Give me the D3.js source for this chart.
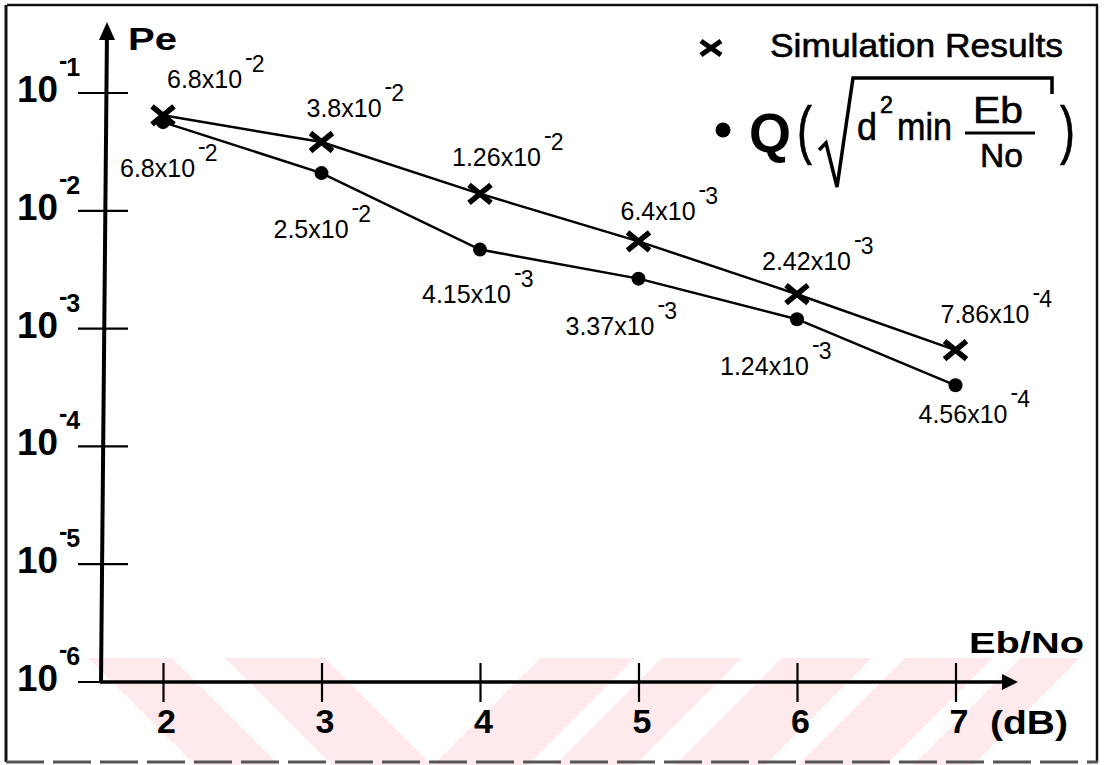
<!DOCTYPE html>
<html><head><meta charset="utf-8">
<script src="https://cdn.jsdelivr.net/npm/d3@7"></script>
<style>html,body{margin:0;padding:0;background:#fff;} svg{display:block;}</style>
</head><body>
<svg id="chart" width="1104" height="765"></svg>
<script>
// ---- data ----
const ebNo = [2, 3, 4, 5, 6, 7];
const simulation = [6.4e-2, 3.8e-2, 1.38e-2, 5.45e-3, 1.94e-3, 6.5e-4];
const qBound = [5.6e-2, 2.07e-2, 4.64e-3, 2.63e-3, 1.19e-3, 3.27e-4];
const simLabelMantissa = ["6.8x10", "3.8x10", "1.26x10", "6.4x10", "2.42x10", "7.86x10"];
const simLabelExp = ["2", "2", "2", "3", "3", "4"];
const qLabelMantissa = ["6.8x10", "2.5x10", "4.15x10", "3.37x10", "1.24x10", "4.56x10"];
const qLabelExp = ["2", "2", "3", "3", "3", "4"];
const xTicks = [2, 3, 4, 5, 6, 7];
const yTicks = [1e-1, 1e-2, 1e-3, 1e-4, 1e-5, 1e-6];
const yTickExp = ["1", "2", "3", "4", "5", "6"];
const legendSim = "Simulation Results";

// ---- layout (label offsets from their point) ----
const simLabelOffset = [[4, -27], [-15, -25], [-28, -28], [-18, -21], [-35, -24], [-15, -27]];
const qLabelOffset = [[-43, 55], [-48, 65], [-58, 53], [-73, 56], [-77, 56], [-37, 38]];

const FONT = "'Liberation Sans', Arial, Helvetica, sans-serif";
const svg = d3.select("#chart");

const x = d3.scaleLinear().domain([2, 7]).range([163, 955.5]);
const y = d3.scaleLog().domain([1e-6, 1e-1]).range([681.5, 92.5]);

// watermark (faint pink stripes at the bottom)
const wm = svg.append("g").attr("fill", "#feeaed");
const bandTop = 658, bandBot = 765, bh = bandBot - bandTop;
[[88, 84, 1], [225, 100, 1], [540, 95, -1], [662, 80, -1], [782, 90, -1], [905, 88, -1], [1020, 60, -1]]
  .forEach(([x0, w, dir]) => {
    const s = dir * bh;
    wm.append("polygon").attr("points",
      `${x0},${bandTop} ${x0 + w},${bandTop} ${x0 + w + s},${bandBot} ${x0 + s},${bandBot}`);
  });

// frame
svg.append("line").attr("x1", 7).attr("y1", 5).attr("x2", 1098).attr("y2", 5).attr("stroke", "#111").attr("stroke-width", 2.5);
svg.append("line").attr("x1", 6).attr("y1", 5).attr("x2", 6).attr("y2", 762).attr("stroke", "#111").attr("stroke-width", 3);
svg.append("line").attr("x1", 1097).attr("y1", 5).attr("x2", 1097).attr("y2", 762).attr("stroke", "#111").attr("stroke-width", 2.5);
svg.append("line").attr("x1", 6).attr("y1", 762).attr("x2", 1098).attr("y2", 762).attr("stroke", "#555").attr("stroke-width", 3).attr("stroke-dasharray", "38 9");

// y axis (log) with crossing ticks
const yAxis = svg.append("g").attr("transform", "translate(103,0)")
  .call(d3.axisLeft(y).tickValues(yTicks).tickSize(24).tickFormat(""));
yAxis.select(".domain").remove();
yAxis.selectAll(".tick line").attr("x1", -25).attr("x2", 25).attr("stroke", "#000").attr("stroke-width", 2.2);
yAxis.selectAll(".tick").each(function (d, i) {
  const g = d3.select(this);
  g.append("text").attr("x", -86).attr("y", 9).attr("text-anchor", "start")
    .attr("fill", "#000").attr("font-family", FONT).attr("font-weight", "bold").attr("font-size", 36)
    .attr("textLength", 41).attr("lengthAdjust", "spacingAndGlyphs").text("10");
  const s = g.append("text").attr("x", -44).attr("y", -17).attr("text-anchor", "start")
    .attr("fill", "#000").attr("font-family", FONT).attr("font-weight", "bold").attr("font-size", 25);
  s.append("tspan").attr("dy", -7).text("-");
  s.append("tspan").attr("dy", 7).attr("dx", -1).text(yTickExp[i]);
});
// y axis line + arrow
svg.append("line").attr("x1", 101).attr("y1", 683).attr("x2", 107).attr("y2", 30).attr("stroke", "#000").attr("stroke-width", 4);
svg.append("path").attr("d", "M107,22 L99,40 L115,40 Z").attr("fill", "#000");

// x axis with crossing ticks
const xAxis = svg.append("g").attr("transform", "translate(0,682)")
  .call(d3.axisBottom(x).tickValues(xTicks).tickSize(20).tickFormat(d3.format("d")));
xAxis.select(".domain").remove();
xAxis.selectAll(".tick line").attr("y1", -19).attr("y2", 20).attr("stroke", "#000").attr("stroke-width", 2.2);
xAxis.selectAll(".tick text").attr("y", 51).attr("dy", 0).attr("dx", 3)
  .attr("fill", "#000").attr("font-family", FONT).attr("font-weight", "bold").attr("font-size", 34);
svg.append("line").attr("x1", 100).attr("y1", 682).attr("x2", 1008).attr("y2", 682).attr("stroke", "#000").attr("stroke-width", 3.5);
svg.append("path").attr("d", "M1018,682 L1002,674 L1002,690 Z").attr("fill", "#000");

// axis titles
const bold = (sel) => sel.attr("fill", "#000").attr("font-family", FONT).attr("font-weight", "bold");
bold(svg.append("text")).attr("x", 128).attr("y", 50).attr("font-size", 32)
  .attr("textLength", 49).attr("lengthAdjust", "spacingAndGlyphs").text("Pe");
bold(svg.append("text")).attr("x", 969).attr("y", 653).attr("font-size", 30)
  .attr("textLength", 115).attr("lengthAdjust", "spacingAndGlyphs").text("Eb/No");
bold(svg.append("text")).attr("x", 990).attr("y", 734).attr("font-size", 33)
  .attr("textLength", 78).attr("lengthAdjust", "spacingAndGlyphs").text("(dB)");

// series lines
const line = d3.line().x((d, i) => x(ebNo[i])).y(d => y(d));
svg.append("path").datum(simulation).attr("d", line).attr("fill", "none").attr("stroke", "#000").attr("stroke-width", 2.5);
svg.append("path").datum(qBound).attr("d", line).attr("fill", "none").attr("stroke", "#000").attr("stroke-width", 2.5);

// markers
svg.append("g").selectAll("path").data(simulation).join("path")
  .attr("transform", (d, i) => `translate(${x(ebNo[i])},${y(d)})`)
  .attr("d", "M-11,-9L11,9M-11,9L11,-9").attr("stroke", "#000").attr("stroke-width", 5.5).attr("fill", "none");
svg.append("g").selectAll("circle").data(qBound).join("circle")
  .attr("cx", (d, i) => x(ebNo[i])).attr("cy", d => y(d)).attr("r", 7).attr("fill", "#000");

// value labels
function valueLabel(px, py, mant, exp) {
  const t = svg.append("text").attr("x", px).attr("y", py).attr("font-family", FONT)
    .attr("font-size", 25).attr("fill", "#000").text(mant);
  const w = t.node().getComputedTextLength();
  const s = svg.append("text").attr("x", px + w + 3).attr("y", py - 16).attr("font-family", FONT)
    .attr("font-size", 23).attr("fill", "#000");
  s.append("tspan").attr("dy", -7).text("-");
  s.append("tspan").attr("dy", 7).attr("dx", -1).text(exp);
}
simulation.forEach((d, i) => valueLabel(x(ebNo[i]) + simLabelOffset[i][0], y(d) + simLabelOffset[i][1], simLabelMantissa[i], simLabelExp[i]));
qBound.forEach((d, i) => valueLabel(x(ebNo[i]) + qLabelOffset[i][0], y(d) + qLabelOffset[i][1], qLabelMantissa[i], qLabelExp[i]));

// legend
const lg = svg.append("g");
lg.append("path").attr("transform", "translate(711,48)").attr("d", "M-10,-7L10,7M-10,7L10,-7")
  .attr("stroke", "#000").attr("stroke-width", 5).attr("fill", "none");
lg.append("text").attr("x", 770).attr("y", 57).attr("font-family", FONT).attr("font-size", 33)
  .attr("fill", "#000").attr("stroke", "#000").attr("stroke-width", 0.6)
  .attr("textLength", 293).attr("lengthAdjust", "spacingAndGlyphs").text(legendSim);
lg.append("circle").attr("cx", 723).attr("cy", 130).attr("r", 7.5).attr("fill", "#000");
const lt = (xx, yy, fs, str, len, extra) => {
  const t = lg.append("text").attr("x", xx).attr("y", yy).attr("font-family", FONT).attr("font-size", fs)
    .attr("fill", "#000").attr("stroke", "#000").attr("stroke-width", 0.6).text(str);
  if (len) t.attr("textLength", len).attr("lengthAdjust", "spacingAndGlyphs");
  if (extra) extra(t);
  return t;
};
lt(749, 152, 56, "Q", 42, t => t.attr("font-weight", "bold").attr("stroke-width", 0));
lt(797, 152, 64, "(", 15);
lg.append("path").attr("d", "M819,150 L826,143 L837,187 L853,78 L1052,78 L1052,94")
  .attr("fill", "none").attr("stroke", "#000").attr("stroke-width", 3.5).attr("stroke-linejoin", "miter");
lt(857, 140, 38, "d", 20);
lt(880, 113, 23, "2", 13);
lt(897, 140, 38, "min", 55);
lt(973, 123, 36, "Eb", 50);
lg.append("line").attr("x1", 965).attr("y1", 133).attr("x2", 1035).attr("y2", 133).attr("stroke", "#000").attr("stroke-width", 3);
lt(980, 167, 34, "No", 43);
lt(1060, 152, 64, ")", 15);
</script>
</body></html>
